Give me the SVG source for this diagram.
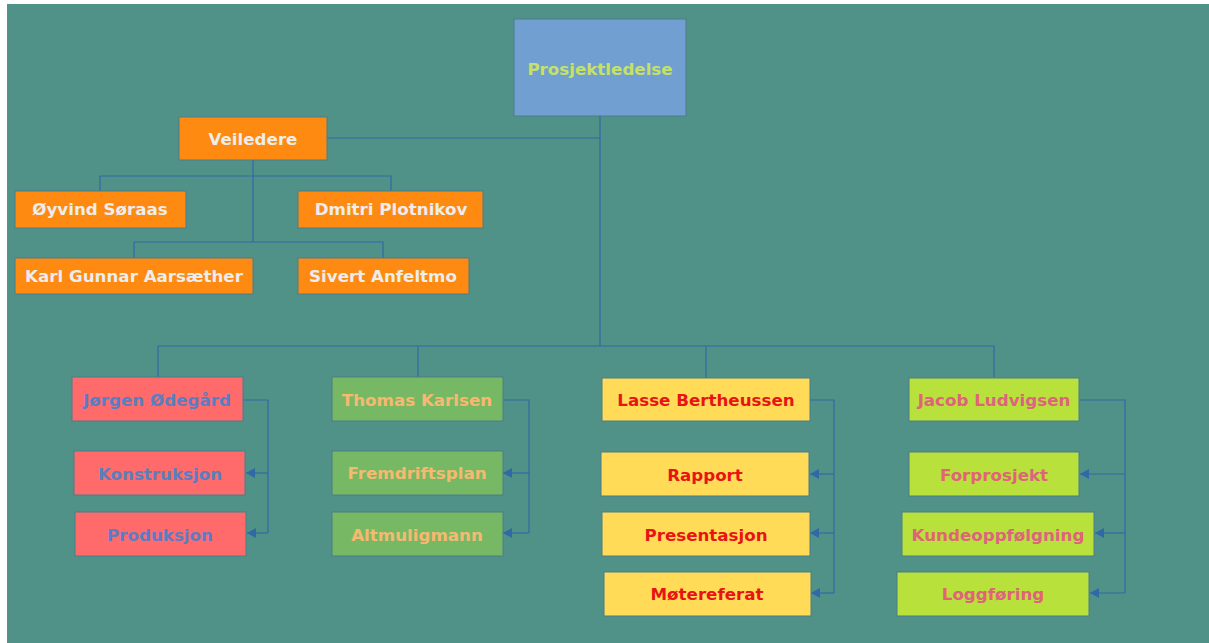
<svg xmlns="http://www.w3.org/2000/svg" width="1209" height="643" viewBox="0 0 1209 643">
<defs>
<style>
.n rect{stroke:#4a7d8a;stroke-width:1}
text{font-family:"DejaVu Sans",Verdana,sans-serif;font-weight:bold;font-size:16.7px;text-anchor:middle;dominant-baseline:central}
.top rect{fill:#729fd1}.top text{fill:#c6e264}
.or rect{fill:#ff8a12}.or text{fill:#ededed}
.rd rect{fill:#ff6b6b}.rd text{fill:#5a7ec0}
.gr rect{fill:#77b864}.gr text{fill:#f7b970}
.ye rect{fill:#ffdb58}.ye text{fill:#e81414}
.li rect{fill:#b8e13c}.li text{fill:#df637a}
#connectors path{fill:none;stroke:#2f6aa6;stroke-width:1.2}
</style>
<marker id="ah" viewBox="0 0 10 10" refX="10" refY="5" markerWidth="9" markerHeight="10" markerUnits="userSpaceOnUse" orient="auto" preserveAspectRatio="none">
<path d="M0,0 L10,5 L0,10 z" fill="#2f6aa6"/>
</marker>
</defs>
<rect x="0" y="0" width="1209" height="643" fill="#ffffff"/>
<rect x="7" y="4" width="1202" height="639" fill="#509287"/>
<g id="connectors">
<path d="M600,116 V346"/>
<path d="M327,138 H600"/>
<path d="M158,377 V346 H994 V377"/>
<path d="M418,346 V377"/>
<path d="M706,346 V378"/>
<path d="M253,160 V242"/>
<path d="M100,191 V176 H391 V191"/>
<path d="M134,258 V242 H383 V258"/>
<path d="M243,400 H268 V533"/>
<path d="M268,473 H246" marker-end="url(#ah)"/>
<path d="M268,533 H247" marker-end="url(#ah)"/>
<path d="M503,400 H529 V533"/>
<path d="M529,473 H503" marker-end="url(#ah)"/>
<path d="M529,533 H503" marker-end="url(#ah)"/>
<path d="M810,400 H834 V593"/>
<path d="M834,474 H810" marker-end="url(#ah)"/>
<path d="M834,533 H810" marker-end="url(#ah)"/>
<path d="M834,593 H811" marker-end="url(#ah)"/>
<path d="M1079,400 H1125 V593"/>
<path d="M1125,474 H1080" marker-end="url(#ah)"/>
<path d="M1125,533 H1095" marker-end="url(#ah)"/>
<path d="M1125,593 H1090" marker-end="url(#ah)"/>
</g>
<g id="n-prosjektledelse" class="n top"><rect x="514" y="19" width="172" height="97"/><text x="600" y="69">Prosjektledelse</text></g>
<g id="n-veiledere" class="n or"><rect x="179" y="117" width="148" height="43"/><text x="253" y="139">Veiledere</text></g>
<g id="n-oyvind" class="n or"><rect x="15" y="191" width="171" height="37"/><text x="100" y="209">Øyvind Søraas</text></g>
<g id="n-dmitri" class="n or"><rect x="298" y="191" width="185" height="37"/><text x="391" y="209">Dmitri Plotnikov</text></g>
<g id="n-karl" class="n or"><rect x="15" y="258" width="238" height="36"/><text x="134" y="276">Karl Gunnar Aarsæther</text></g>
<g id="n-sivert" class="n or"><rect x="298" y="258" width="171" height="36"/><text x="383" y="276">Sivert Anfeltmo</text></g>
<g id="n-jorgen" class="n rd"><rect x="72" y="377" width="171" height="44"/><text x="157" y="400">Jørgen Ødegård</text></g>
<g id="n-konstruksjon" class="n rd"><rect x="74" y="451" width="171" height="44"/><text x="160" y="474">Konstruksjon</text></g>
<g id="n-produksjon" class="n rd"><rect x="75" y="512" width="171" height="44"/><text x="160" y="535">Produksjon</text></g>
<g id="n-thomas" class="n gr"><rect x="332" y="377" width="171" height="44"/><text x="417" y="400">Thomas Karlsen</text></g>
<g id="n-fremdriftsplan" class="n gr"><rect x="332" y="451" width="171" height="44"/><text x="417" y="473">Fremdriftsplan</text></g>
<g id="n-altmuligmann" class="n gr"><rect x="332" y="512" width="171" height="44"/><text x="417" y="535">Altmuligmann</text></g>
<g id="n-lasse" class="n ye"><rect x="602" y="378" width="208" height="43"/><text x="706" y="400">Lasse Bertheussen</text></g>
<g id="n-rapport" class="n ye"><rect x="601" y="452" width="208" height="44"/><text x="705" y="475">Rapport</text></g>
<g id="n-presentasjon" class="n ye"><rect x="602" y="512" width="208" height="44"/><text x="706" y="535">Presentasjon</text></g>
<g id="n-motereferat" class="n ye"><rect x="604" y="572" width="207" height="44"/><text x="707" y="594">Møtereferat</text></g>
<g id="n-jacob" class="n li"><rect x="909" y="378" width="170" height="43"/><text x="994" y="400">Jacob Ludvigsen</text></g>
<g id="n-forprosjekt" class="n li"><rect x="909" y="452" width="170" height="44"/><text x="994" y="475">Forprosjekt</text></g>
<g id="n-kundeoppfolgning" class="n li"><rect x="902" y="512" width="192" height="44"/><text x="998" y="535">Kundeoppfølgning</text></g>
<g id="n-loggforing" class="n li"><rect x="897" y="572" width="192" height="44"/><text x="993" y="594">Loggføring</text></g>
</svg>
